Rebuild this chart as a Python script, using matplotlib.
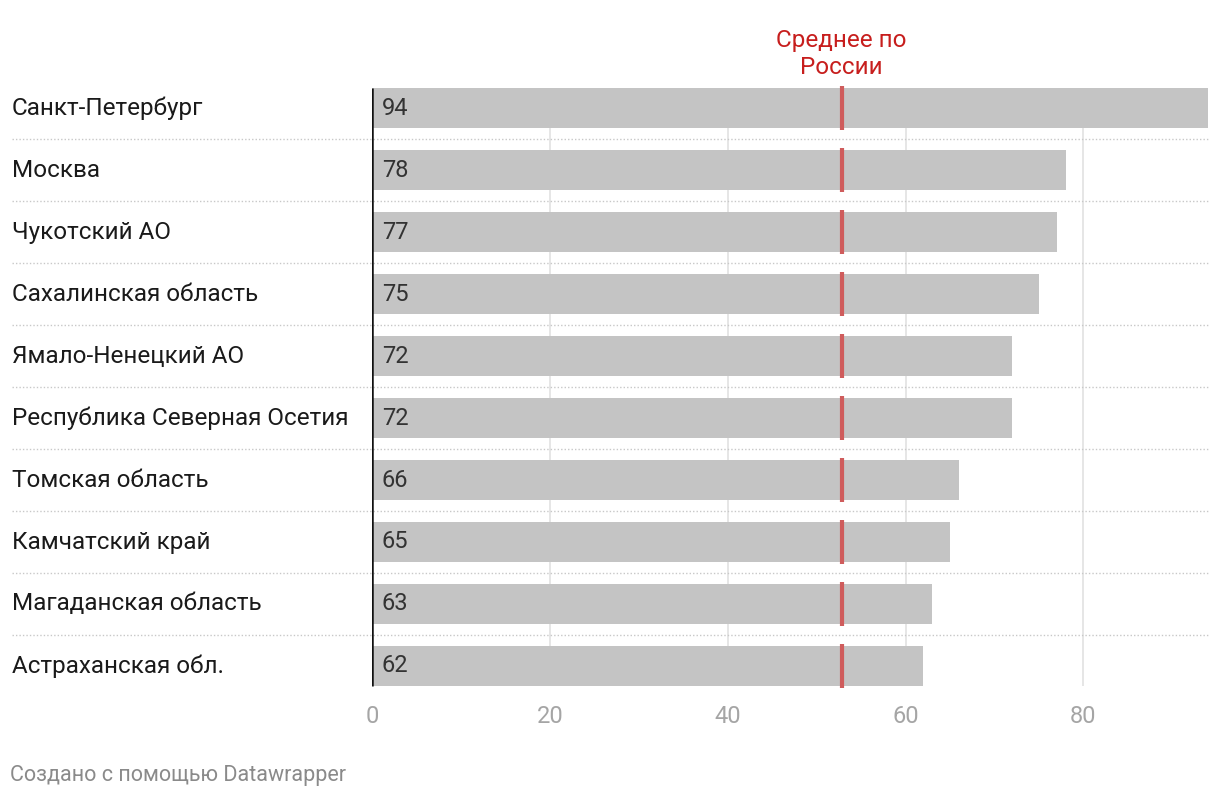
import matplotlib
matplotlib.use("Agg")
import matplotlib.pyplot as plt

plt.rcParams['font.family'] = ['Roboto', 'DejaVu Sans']

regions = ["Санкт-Петербург", "Москва", "Чукотский АО", "Сахалинская область",
           "Ямало-Ненецкий АО", "Республика Северная Осетия", "Томская область",
           "Камчатский край", "Магаданская область", "Астраханская обл."]
values = [94, 78, 77, 75, 72, 72, 66, 65, 63, 62]
russia_mean = 52.8
ticks = [0, 20, 40, 60, 80]

fig = plt.figure(figsize=(12.2, 7.98), dpi=100)
ax = fig.add_axes([372 / 1220, 1 - 697 / 798, 836 / 1220, 620 / 798])

n = len(values)
ypos = list(range(n))
bar_h = 40 / 62

# vertical gridlines behind bars
for t in ticks[1:]:
    ax.vlines(t, -bar_h / 2, n - 1 + bar_h / 2, color="#e2e2e2", lw=1.2, zorder=0)

ax.barh(ypos, values, height=bar_h, color="#c4c4c4", zorder=1)

# mean marker in each bar
for y in ypos:
    ax.vlines(russia_mean, y - 0.355, y + 0.355, color="#cf5c5c", lw=3, zorder=3)

# zero axis line
ax.vlines(0, -bar_h / 2, n - 1 + bar_h / 2, color="#111111", lw=1.8, zorder=4)

# row separators
sep_x0 = (12 - 372) / 836
for y in ypos[:-1]:
    ax.plot([sep_x0, 1.0], [y + 0.5, y + 0.5], transform=ax.get_yaxis_transform(),
            color="#c8c8c8", lw=1, ls=(0, (1, 1.5)), clip_on=False, zorder=0)

for y, v, name in zip(ypos, values, regions):
    ax.text(1.1, y, str(v), va="center", ha="left", fontsize=17, color="#333333", zorder=5)
    ax.text(sep_x0, y, name, transform=ax.get_yaxis_transform(), va="center", ha="left",
            fontsize=17.5, color="#1a1a1a")

ax.text(russia_mean, -0.87, "Среднее по\nРоссии", ha="center", va="center",
        fontsize=17.5, color="#c71e1d", linespacing=1.22, clip_on=False)

ax.set_xlim(0, 94)
ax.set_ylim(n - 0.5, -0.5)
ax.set_xticks(ticks)
ax.set_yticks([])
ax.tick_params(axis="x", length=0, pad=6, labelsize=17, labelcolor="#a5a5a5")
for s in ax.spines.values():
    s.set_visible(False)

fig.text(10 / 1220, 1 - 775 / 798, "Создано с помощью Datawrapper", ha="left", va="center",
         fontsize=15.5, color="#8a8a8a")

fig.savefig("out.png", dpi=100)
